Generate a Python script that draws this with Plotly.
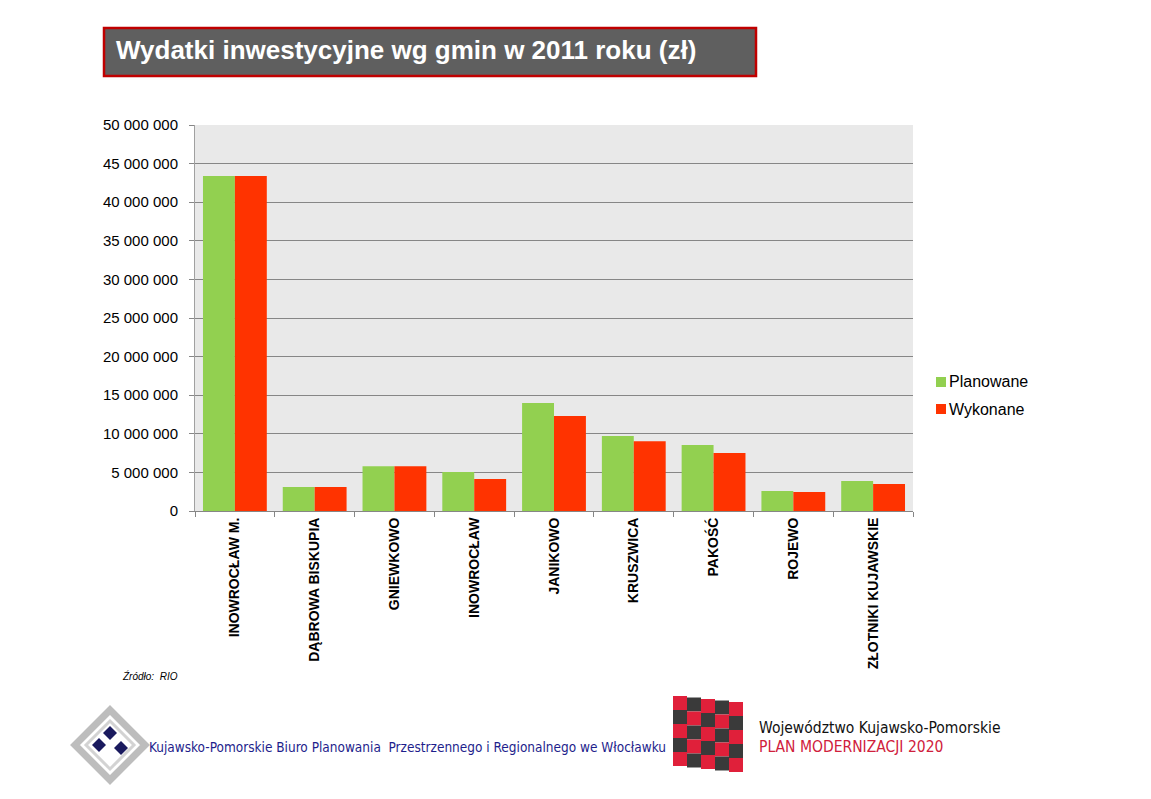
import plotly.graph_objects as go

categories = ["INOWROCŁAW M.", "DĄBROWA BISKUPIA", "GNIEWKOWO", "INOWROCŁAW", "JANIKOWO",
              "KRUSZWICA", "PAKOŚĆ", "ROJEWO", "ZŁOTNIKI KUJAWSKIE"]
planowane = [43400000, 3100000, 5800000, 5050000, 14000000, 9700000, 8550000, 2600000, 3900000]
wykonane = [43400000, 3100000, 5800000, 4150000, 12300000, 9050000, 7500000, 2450000, 3500000]
series_names = ["Planowane", "Wykonane"]
series_colors = ["#92D050", "#FF3300"]
tick_vals = [0, 5000000, 10000000, 15000000, 20000000, 25000000, 30000000, 35000000, 40000000, 45000000, 50000000]
tick_text = ["0", "5 000 000", "10 000 000", "15 000 000", "20 000 000", "25 000 000",
             "30 000 000", "35 000 000", "40 000 000", "45 000 000", "50 000 000"]

W, H = 1151, 799
L, R, T, B = 195, 913, 125, 511


def px(x):
    return (x - L) / (R - L)


def py(y):
    return (B - y) / (B - T)


fig = go.Figure()
fig.add_trace(go.Bar(name=series_names[0], x=categories, y=planowane, marker_color=series_colors[0],
                     marker_line_width=0))
fig.add_trace(go.Bar(name=series_names[1], x=categories, y=wykonane, marker_color=series_colors[1],
                     marker_line_width=0))

shapes = []
# title box
shapes.append(dict(type="rect", xref="paper", yref="paper", x0=px(104), x1=px(756), y0=py(76), y1=py(28),
                   fillcolor="#5F5F5F", line=dict(color="#C00000", width=2.5), layer="above"))

# manual legend
for i, (nm, col) in enumerate(zip(series_names, series_colors)):
    cy = 382 + i * 27
    shapes.append(dict(type="rect", xref="paper", yref="paper", x0=px(936), x1=px(946),
                       y0=py(cy + 5), y1=py(cy - 5), fillcolor=col, line=dict(width=0)))


# left logo: gray diamond frame and navy diamonds
def diamond(cx, cy, r, fill, line_color=None, lw=0):
    path = (f"M {px(cx)} {py(cy - r)} L {px(cx + r)} {py(cy)} L {px(cx)} {py(cy + r)} "
            f"L {px(cx - r)} {py(cy)} Z")
    return dict(type="path", xref="paper", yref="paper", path=path, fillcolor=fill,
                line=dict(color=line_color or fill, width=lw), layer="above")


shapes.append(diamond(110, 745, 35, "rgba(0,0,0,0)", "#BDBDBD", 7))
shapes.append(diamond(110, 745, 24, "white", "#D3D3D3", 3))
shapes.append(diamond(110, 733, 7, "#1A1A5E"))
shapes.append(diamond(99, 745, 7, "#1A1A5E"))
shapes.append(diamond(121, 748, 7, "#1A1A5E"))

# right logo: checkerboard flag
x0l, y0l = 673, 696
cw, ch = 14, 14
for r_ in range(5):
    for c_ in range(5):
        col = "#E0203A" if (r_ + c_) % 2 == 0 else "#3A3A3A"
        xa = x0l + c_ * cw
        ya = y0l + r_ * ch + c_ * 1.5
        shapes.append(dict(type="rect", xref="paper", yref="paper", x0=px(xa), x1=px(xa + cw),
                           y0=py(ya + ch), y1=py(ya), fillcolor=col, line=dict(width=0), layer="above"))

cond = "DejaVu Sans Condensed, DejaVu Sans"
annotations = [
    dict(text="Wydatki inwestycyjne wg gmin w 2011 roku (zł)", xref="paper", yref="paper",
         x=px(114), y=py(50), xanchor="left", yanchor="middle", showarrow=False,
         font=dict(family="Arial, Liberation Sans", size=26, color="white", weight="bold")),
    dict(text="<i>Źródło:  RIO</i>", xref="paper", yref="paper", x=px(120), y=py(676),
         xanchor="left", yanchor="middle", showarrow=False,
         font=dict(family="Arial, Liberation Sans", size=10, color="black")),
    dict(text="Kujawsko-Pomorskie Biuro Planowania  Przestrzennego i Regionalnego we Włocławku",
         xref="paper", yref="paper", x=px(147), y=py(747), xanchor="left", yanchor="middle",
         showarrow=False, font=dict(family=cond, size=13.5, color="#1E1E8C")),
    dict(text="Województwo Kujawsko-Pomorskie", xref="paper", yref="paper", x=px(757), y=py(728),
         xanchor="left", yanchor="middle", showarrow=False,
         font=dict(family=cond, size=15.5, color="#111111")),
    dict(text="PLAN MODERNIZACJI 2020", xref="paper", yref="paper", x=px(757), y=py(747),
         xanchor="left", yanchor="middle", showarrow=False,
         font=dict(family=cond, size=15.5, color="#D0203C")),
]
for i, nm in enumerate(series_names):
    annotations.append(dict(text=nm, xref="paper", yref="paper", x=px(947), y=py(382 + i * 27),
                            xanchor="left", yanchor="middle", showarrow=False,
                            font=dict(family="Arial, Liberation Sans", size=16, color="black")))

fig.update_layout(
    width=W, height=H,
    margin=dict(l=L, r=W - R, t=T, b=H - B, autoexpand=False),
    paper_bgcolor="white", plot_bgcolor="#E9E9E9",
    barmode="group", bargap=0.2, bargroupgap=0,
    font=dict(family="Arial, Liberation Sans", color="black"),
    showlegend=False,
    shapes=shapes, annotations=annotations,
)
fig.update_xaxes(tickangle=-90, tickson="boundaries", ticks="outside", ticklen=5, tickcolor="#868686",
                 showline=True, linecolor="#868686", linewidth=1, showgrid=False,
                 tickfont=dict(size=14, family="Arial, Liberation Sans", color="black", weight="bold"))
fig.update_yaxes(range=[0, 50000000], tickvals=tick_vals, ticktext=tick_text, ticks="outside", ticklen=5,
                 tickcolor="#868686", showline=True, linecolor="#A0A0A0", linewidth=1,
                 gridcolor="#868686", gridwidth=1, zeroline=False, ticklabelstandoff=8,
                 tickfont=dict(size=15, color="black"))

fig.write_html("out.html")
